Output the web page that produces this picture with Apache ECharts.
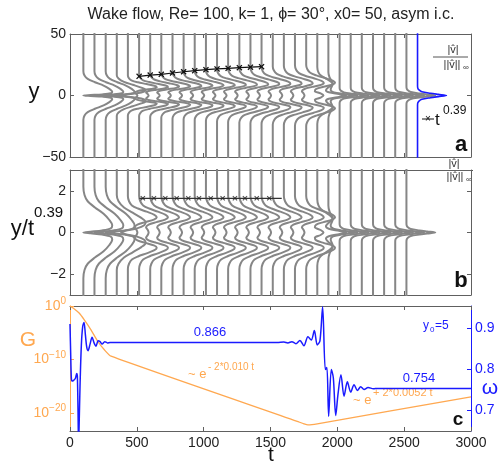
<!DOCTYPE html>
<html><head><meta charset="utf-8">
<script src="https://cdn.jsdelivr.net/npm/echarts@6/dist/echarts.min.js"></script>
<style>html,body{margin:0;padding:0;background:#fff}#c{width:499px;height:470px}</style>
</head><body><div id="c"></div>
<script>
// ---------- data ----------
const profileTimes = [100,183,267,350,433,517,600,683,767,850,933,1017,1100,1183,1267,1350,1433,1517,1600,1683,1767,1850,1933,2017,2100,2183,2267,2350,2433,2517];
const profileShape = ['E','E','E','E2','M','M','M','M','M','M','M','M','M','M','M','M','M','M','M','M','M2','T1','T2','L','L','L','L','L','L','L'];
const profileWidthA = [9,9,9,9.2,9.3,9.5,10,10.3,10.7,11,11.3,11.6,12,12.3,12.6,12.9,13.2,13.5,13.7,14,14.2,14.5,14.7,15,15.3,15.6,15.9,16.2,16.5,16.8];
const blueProfileTime = 2600;
const blueProfileWidthA = 18;
const profileScale = 216;   // t-units for |v|/||v|| = 1

// profile templates: eta = y/t^0.39 (>=0, mirrored), value = |v|/||v||
const shapeEta = {
  E:  [0,0.04,0.1,0.2,0.35,0.6,0.9,1.2,1.5,1.8,2.2,10],
  E2: [0,0.08,0.2,0.35,0.5,0.7,0.95,1.2,1.5,1.8,10],
  M:  [0,0.12,0.25,0.38,0.5,0.62,0.73,0.85,1.0,1.15,1.3,1.5,1.75,10],
  M2: [0,0.12,0.25,0.38,0.5,0.62,0.73,0.85,1.0,1.15,1.3,1.5,1.75,10],
  T1: [0,0.08,0.18,0.3,0.45,0.58,0.68,0.8,0.95,1.1,1.3,1.6,10],
  T2: [0,0.05,0.1,0.17,0.25,0.35,0.5,0.65,0.8,1.0,1.3,10],
  L:  [0,0.05,0.1,0.17,0.25,0.33,0.45,10]
};
const shapeVal = {
  E:  [0,0.25,0.65,0.95,1,0.9,0.7,0.4,0.15,0.04,0,0],
  E2: [0.15,0.3,0.7,0.95,1,0.85,0.55,0.25,0.06,0,0],
  M:  [0.33,0.3,0.24,0.33,0.6,0.9,1,0.92,0.65,0.35,0.14,0.04,0,0],
  M2: [0.6,0.5,0.3,0.35,0.6,0.9,1,0.92,0.65,0.35,0.14,0.04,0,0],
  T1: [1,0.75,0.4,0.3,0.38,0.5,0.52,0.45,0.3,0.14,0.04,0,0],
  T2: [1,0.72,0.45,0.2,0.1,0.08,0.12,0.16,0.12,0.04,0,0],
  L:  [1,0.72,0.45,0.15,0.05,0.01,0,0]
};

// t^0.39 markers
const markerTimesA = [517,600,683,767,850,933,1017,1100,1183,1267,1350,1433];
const markerYA = [15.6,16.6,17.2,18.3,19.3,20.2,21.0,21.6,22.1,22.6,23.0,23.4];
const markerTimesB = [545,628,713,798,885,965,1053,1142,1234,1309,1397,1491];
const markerEtaB = 1.64;
const markerLineB = [519, 1584];

// panel c
const gT = [0,35,70,107,157,207,257,307,1700,1750,1780,1810,1850,3000];
const gLog10 = [0,-0.6,-1.36,-2.6,-4.46,-6.6,-8.2,-9.4,-21.6,-22.05,-22.25,-22.2,-22.05,-17.0];
const omegaT = [0,5,10,15,25,40,50,55,60,64,68,75,85,95,105,115,125,135,150,165,180,195,210,225,240,260,280,300,1550,1600,1630,1660,1690,1720,1750,1780,1805,1828,1850,1870,1890,1910,1922,1935,1955,1970,1988,2005,2027,2050,2075,2100,2125,2150,2175,2200,2230,2270,2300,3000];
const omegaV = [0.911,0.84,0.78,0.772,0.773,0.778,0.79,0.785,0.70,0.62,0.66,0.76,0.86,0.905,0.915,0.885,0.855,0.846,0.862,0.879,0.865,0.857,0.87,0.868,0.862,0.868,0.865,0.866,0.866,0.867,0.865,0.868,0.863,0.871,0.858,0.88,0.872,0.895,0.86,0.87,0.953,0.80,0.805,0.686,0.80,0.78,0.688,0.74,0.787,0.735,0.77,0.745,0.763,0.749,0.758,0.751,0.756,0.753,0.754,0.754];

const tTicks = [0,500,1000,1500,2000,2500,3000];
const yTicksA = [-50,0,50];
const yTicksB = [-2,0,2];
const gTicks = [0,-10,-20];
const omegaTicks = [0.7,0.8,0.9];

// ---------- chart ----------
const FONT = 'Liberation Sans, Arial, Helvetica, sans-serif';
const GRAY = '#868686', FRAME = '#606060', BLUE = '#1a1aff', ORANGE = '#ffa850';
const minus = s => String(s).replace('-', '\u2212');

function profilePts(key, t, ys) {
  const e = shapeEta[key], f = shapeVal[key], pts = [];
  for (let k = e.length - 1; k >= 0; k--) pts.push([t + profileScale * f[k], -e[k] * ys]);
  for (let k = 1; k < e.length; k++) pts.push([t + profileScale * f[k], e[k] * ys]);
  return pts;
}

const series = [];
profileTimes.forEach((t, i) => {
  series.push({type:'line', xAxisIndex:0, yAxisIndex:0, data: profilePts(profileShape[i], t, profileWidthA[i]),
    showSymbol:false, smooth:0.3, lineStyle:{color:GRAY, width:2}, silent:true, z:2});
  series.push({type:'line', xAxisIndex:2, yAxisIndex:2, data: profilePts(profileShape[i], t, 1),
    showSymbol:false, smooth:0.3, lineStyle:{color:GRAY, width:2}, silent:true, z:2});
});
series.push({type:'line', xAxisIndex:0, yAxisIndex:0, data: profilePts('L', blueProfileTime, blueProfileWidthA),
  showSymbol:false, smooth:0.3, lineStyle:{color:BLUE, width:1.6}, silent:true, z:3});

const XSYM = 'path://M0,1.5L1.5,0L5,3.5L8.5,0L10,1.5L6.5,5L10,8.5L8.5,10L5,6.5L1.5,10L0,8.5L3.5,5Z';
series.push({type:'line', xAxisIndex:0, yAxisIndex:0, data: markerTimesA.map((t,i)=>[t, markerYA[i]]),
  symbol:XSYM, symbolSize:6, showSymbol:true, itemStyle:{color:'#111'}, lineStyle:{color:'#111', width:1.2}, z:5, silent:true});
series.push({type:'line', xAxisIndex:2, yAxisIndex:2, data: markerLineB.map(t=>[t, markerEtaB]),
  showSymbol:false, lineStyle:{color:'#333', width:1.2}, z:5, silent:true});
series.push({type:'scatter', xAxisIndex:2, yAxisIndex:2, data: markerTimesB.map(t=>[t, markerEtaB]),
  symbol:XSYM, symbolSize:5, itemStyle:{color:'#222'}, z:6, silent:true});

series.push({type:'line', xAxisIndex:4, yAxisIndex:4, data: gT.map((t,i)=>[t, gLog10[i]]),
  showSymbol:false, smooth:0.2, lineStyle:{color:ORANGE, width:1.3}, z:3, silent:true});
series.push({type:'line', xAxisIndex:4, yAxisIndex:5, data: omegaT.map((t,i)=>[t, omegaV[i]]),
  showSymbol:false, smooth:0.3, lineStyle:{color:BLUE, width:1.5}, z:4, silent:true});

function xAx(grid, pos, labels) {
  return {type:'value', gridIndex:grid, position:pos, min:0, max:3000, interval:500,
    axisLine:{show:true, onZero:false, lineStyle:{color: FRAME, width:1}},
    axisTick:{show:true, inside:true, length:4, lineStyle:{color:FRAME}},
    axisLabel:{show:labels, color:'#222', fontSize:14, fontFamily:FONT, margin:5, formatter: v => String(v)},
    splitLine:{show:false}};
}
function yAx(grid, pos, min, max, ticks, labels, color, fmt) {
  return {type:'value', gridIndex:grid, position:pos, min:min, max:max,
    axisLine:{show:true, onZero:false, lineStyle:{color: color || FRAME, width:1}},
    axisTick:{show:true, inside:true, length:4, customValues:ticks, lineStyle:{color: color || FRAME}},
    axisLabel:{show:labels, customValues:ticks, color: color || '#222', fontSize:14, fontFamily:FONT, margin:4, formatter: fmt || (v=>minus(v))},
    splitLine:{show:false}};
}

const option = {
  animation:false,
  backgroundColor:'#fff',
  grid:[
    {left:70, top:34, width:401, height:123, outerBoundsMode:'none'},
    {left:70, top:170, width:401, height:125, outerBoundsMode:'none'},
    {left:70, top:306, width:401, height:125, outerBoundsMode:'none'}
  ],
  xAxis:[ xAx(0,'bottom',false), xAx(0,'top',false), xAx(1,'bottom',false), xAx(1,'top',false), xAx(2,'bottom',true), xAx(2,'top',false) ],
  yAxis:[
    yAx(0,'left',-50,50,yTicksA,true), yAx(0,'right',-50,50,yTicksA,false),
    yAx(1,'left',-3,3,yTicksB,true), yAx(1,'right',-3,3,yTicksB,false),
    yAx(2,'left',-23.4,0,gTicks,true,ORANGE, v => '{b|10}{s|' + (v===0 ? '0' : '\u2212' + (-v)) + '}'),
    yAx(2,'right',0.65,0.955,omegaTicks,true,BLUE, v => v.toFixed(1))
  ],
  series: series,
  graphic:[
    {type:'text', x:271, y:15, style:{text:'Wake flow, Re= 100, k= 1, \u03d5= 30\u00b0, x0= 50, asym i.c.', font:'16px '+FONT, fill:'#222', textAlign:'center', textVerticalAlign:'middle'}},
    {type:'text', x:34, y:92, style:{text:'y', font:'22px '+FONT, fill:'#111', textAlign:'center', textVerticalAlign:'middle'}},
    {type:'text', x:34, y:229, style:{text:'y/t', font:'22px '+FONT, fill:'#111', textAlign:'right', textVerticalAlign:'middle'}},
    {type:'text', x:34, y:213, style:{text:'0.39', font:'15px '+FONT, fill:'#111', textAlign:'left', textVerticalAlign:'middle'}},
    {type:'text', x:28, y:340, style:{text:'G', font:'21px '+FONT, fill:ORANGE, textAlign:'center', textVerticalAlign:'middle'}},
    {type:'text', x:490, y:388, style:{text:'\u03c9', font:'21px '+FONT, fill:BLUE, textAlign:'center', textVerticalAlign:'middle'}},
    {type:'text', x:271, y:455, style:{text:'t', font:'21px '+FONT, fill:'#111', textAlign:'center', textVerticalAlign:'middle'}},
    // panel a legend
    {type:'text', x:453, y:50, style:{text:'|v\u0302|', font:'11px '+FONT, fill:'#333', textAlign:'center', textVerticalAlign:'middle'}},
    {type:'line', shape:{x1:433, y1:57, x2:468, y2:57}, style:{stroke:'#555', lineWidth:1}},
    {type:'text', x:452, y:65, style:{text:'||v\u0302||', font:'11px '+FONT, fill:'#333', textAlign:'center', textVerticalAlign:'middle'}},
    {type:'text', x:463, y:68, style:{text:'\u221e', font:'8px '+FONT, fill:'#333', textAlign:'left', textVerticalAlign:'middle'}},
    {type:'line', shape:{x1:422, y1:119, x2:434, y2:119}, style:{stroke:'#111', lineWidth:1}},
    {type:'text', x:428, y:119, style:{text:'\u00d7', font:'10px '+FONT, fill:'#111', textAlign:'center', textVerticalAlign:'middle'}},
    {type:'text', x:435, y:120, style:{text:'t', font:'17px '+FONT, fill:'#111', textAlign:'left', textVerticalAlign:'middle'}},
    {type:'text', x:443, y:111, style:{text:'0.39', font:'12px '+FONT, fill:'#111', textAlign:'left', textVerticalAlign:'middle'}},
    {type:'text', x:461, y:145, style:{text:'a', font:'bold 22px '+FONT, fill:'#111', textAlign:'center', textVerticalAlign:'middle'}},
    // panel b legend
    {type:'text', x:454, y:164, style:{text:'|v\u0302|', font:'11px '+FONT, fill:'#333', textAlign:'center', textVerticalAlign:'middle'}},
    {type:'line', shape:{x1:437, y1:170.5, x2:473, y2:170.5}, style:{stroke:'#555', lineWidth:1}},
    {type:'text', x:455, y:177, style:{text:'||v\u0302||', font:'11px '+FONT, fill:'#333', textAlign:'center', textVerticalAlign:'middle'}},
    {type:'text', x:466, y:180, style:{text:'\u221e', font:'8px '+FONT, fill:'#333', textAlign:'left', textVerticalAlign:'middle'}},
    {type:'text', x:461, y:281, style:{text:'b', font:'bold 22px '+FONT, fill:'#111', textAlign:'center', textVerticalAlign:'middle'}},
    // panel c texts
    {type:'text', x:210, y:332, style:{text:'0.866', font:'13px '+FONT, fill:BLUE, textAlign:'center', textVerticalAlign:'middle'}},
    {type:'text', x:419, y:378, style:{text:'0.754', font:'13px '+FONT, fill:BLUE, textAlign:'center', textVerticalAlign:'middle'}},
    {type:'text', x:423, y:326, style:{text:'y', font:'12px '+FONT, fill:BLUE, textAlign:'left', textVerticalAlign:'middle'}},
    {type:'text', x:430, y:330, style:{text:'0', font:'8px '+FONT, fill:BLUE, textAlign:'left', textVerticalAlign:'middle'}},
    {type:'text', x:435, y:326, style:{text:'=5', font:'12px '+FONT, fill:BLUE, textAlign:'left', textVerticalAlign:'middle'}},
    {type:'text', x:188, y:374, style:{text:'~ e', font:'13px '+FONT, fill:ORANGE, textAlign:'left', textVerticalAlign:'middle'}},
    {type:'text', x:208, y:367, style:{text:'- 2*0.010 t', font:'10px '+FONT, fill:ORANGE, textAlign:'left', textVerticalAlign:'middle'}},
    {type:'text', x:353, y:400, style:{text:'~ e', font:'13px '+FONT, fill:ORANGE, textAlign:'left', textVerticalAlign:'middle'}},
    {type:'text', x:373, y:393, style:{text:'+ 2*0.0052 t', font:'11px '+FONT, fill:ORANGE, textAlign:'left', textVerticalAlign:'middle'}},
    {type:'text', x:458, y:420, style:{text:'c', font:'bold 19px '+FONT, fill:'#111', textAlign:'center', textVerticalAlign:'middle'}}
  ]
};
// rich labels for log axis
option.yAxis[4].axisLabel.rich = {
  b:{fontSize:14, fontFamily:FONT, color:ORANGE},
  s:{fontSize:10, fontFamily:FONT, color:ORANGE, verticalAlign:'bottom', padding:[0,0,9,0]}
};
const chart = echarts.init(document.getElementById('c'), null, {renderer:'canvas'});
chart.setOption(option);
</script></body></html>
